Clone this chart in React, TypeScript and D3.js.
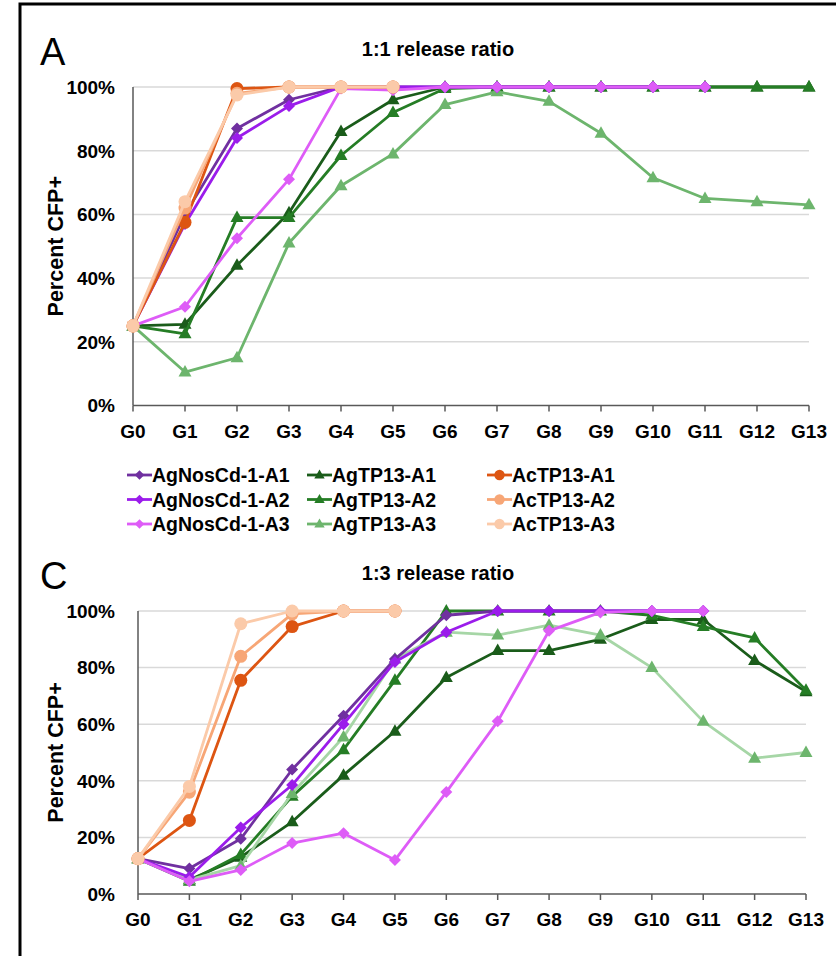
import React from "react";
import * as d3 from "d3";

// generations on the x axis and percent ticks on the y axis
const generations = ["G0", "G1", "G2", "G3", "G4", "G5", "G6", "G7", "G8", "G9", "G10", "G11", "G12", "G13"];
const percentTicks = [0, 20, 40, 60, 80, 100];

const seriesNames = [
  "AgNosCd-1-A1", "AgNosCd-1-A2", "AgNosCd-1-A3",
  "AgTP13-A1", "AgTP13-A2", "AgTP13-A3",
  "AcTP13-A1", "AcTP13-A2", "AcTP13-A3",
];

// panel A, 1:1 release ratio
const nos11A1 = [25, 60, 87, 96, 100, 100, 100, 100, 100, 100, 100, 100];
const nos11A2 = [25, 57, 84, 94, 100, 100, 100, 100, 100, 100, 100, 100];
const nos11A3 = [25, 31, 52.5, 71, 99.5, 99, 100, 100, 100, 100, 100, 100];
const tp11A1 = [25, 25.5, 44, 60.5, 86, 96, 100, 100, 100, 100, 100, 100, 100, 100];
const tp11A2 = [25, 22.5, 59, 59, 78.5, 92, 99.5, 100, 100, 100, 100, 100, 100, 100];
const tp11A3 = [25, 10.5, 15, 51, 69, 79, 94.5, 98.5, 95.5, 85.5, 71.5, 65, 64, 63];
const ac11A1 = [25, 57.5, 99.5, 100, 100, 100];
const ac11A2 = [25, 62, 98, 100, 100, 100];
const ac11A3 = [25, 64, 97.5, 100, 100, 100];

// panel C, 1:3 release ratio
const nos13A1 = [12.5, 9, 19.5, 44, 63, 83, 98.5, 100, 100, 100, 100, 100];
const nos13A2 = [12.5, 6, 23.5, 38.5, 60, 82, 92.5, 100, 100, 100, 100, 100];
const nos13A3 = [12.5, 4.5, 8.5, 18, 21.5, 12, 36, 61, 93, 99.5, 100, 100];
const tp13A1 = [12.5, 5, 13, 25.5, 42, 57.5, 76.5, 86, 86, 90, 97, 97, 82.5, 71.5];
const tp13A2 = [12.5, 4.5, 14, 34.5, 51, 75.5, 100, 100, 100, 100, 98.5, 94.5, 90.5, 72];
const tp13A3 = [12.5, 5, 10, 35.5, 55.5, 83, 92.5, 91.5, 95, 91.5, 80, 61, 48, 50];
const ac13A1 = [12.5, 26, 75.5, 94.5, 100, 100];
const ac13A2 = [12.5, 36, 84, 99, 100, 100];
const ac13A3 = [12.5, 38, 95.5, 100, 100, 100];

const colors = ["#7030A0", "#9B1CEB", "#DE5CF7", "#1A5C1A", "#257D25", "#6DB56D", "#DD5512", "#F7A676", "#FBCAA9"];
const shapes = ["diamond", "diamond", "diamond", "triangle", "triangle", "triangle", "circle", "circle", "circle"];

const font = "Liberation Sans, Arial, sans-serif";

const markerPath = (shape: string, s = 1) => {
  if (shape === "diamond") return `M0,${-6 * s}L${6 * s},0L0,${6 * s}L${-6 * s},0Z`;
  if (shape === "triangle") return `M0,${-7 * s}L${6.5 * s},${4.5 * s}L${-6.5 * s},${4.5 * s}Z`;
  return d3.symbol(d3.symbolCircle, 133 * s * s)() as string;
};

type Panel = {
  letter: string;
  title: string;
  data: number[][];
  lineColors?: (string | null)[];
  x0: number;
  x1: number;
  yTop: number;
  yBottom: number;
};

// drawing order: greens under purples under oranges
const drawOrder = [3, 4, 5, 0, 1, 2, 6, 7, 8];

const Chart = ({ p }: { p: Panel }) => {
  const x = d3.scalePoint<string>().domain(generations).range([p.x0, p.x1]);
  const y = d3.scaleLinear().domain([0, 100]).range([p.yBottom, p.yTop]);
  const line = d3
    .line<number>()
    .x((_, i) => x(generations[i]) as number)
    .y((d) => y(d));
  const midY = (p.yTop + p.yBottom) / 2;

  return (
    <g>
      <text x={40} y={p.yTop - 22} fontFamily={font} fontSize={38}>{p.letter}</text>
      <text x={438} y={p.yTop - 31} fontFamily={font} fontSize={20} fontWeight="bold" textAnchor="middle">{p.title}</text>
      {percentTicks.map((t) => (
        <g key={t}>
          {t > 0 && <line x1={p.x0} x2={p.x1} y1={y(t)} y2={y(t)} stroke="#D9D9D9" strokeWidth={1.5} />}
          <text x={115} y={y(t)} dy="0.36em" textAnchor="end" fontFamily={font} fontSize={19} fontWeight="bold">{t}%</text>
        </g>
      ))}
      <line x1={p.x0} x2={p.x0} y1={p.yTop} y2={p.yBottom} stroke="#595959" strokeWidth={1.5} />
      <line x1={p.x0} x2={p.x1} y1={p.yBottom} y2={p.yBottom} stroke="#595959" strokeWidth={1.5} />
      {generations.map((g) => (
        <g key={g}>
          <line x1={x(g)} x2={x(g)} y1={p.yBottom} y2={p.yBottom + 6} stroke="#595959" strokeWidth={1.5} />
          <text x={x(g)} y={p.yBottom + 32} textAnchor="middle" fontFamily={font} fontSize={19} fontWeight="bold">{g}</text>
        </g>
      ))}
      <text transform={`translate(63,${midY}) rotate(-90)`} textAnchor="middle" fontFamily={font} fontSize={21.5} fontWeight="bold">Percent CFP+</text>
      {drawOrder.map((i) => {
        const vals = p.data[i];
        return (
          <g key={i}>
            <path d={line(vals) as string} fill="none" stroke={p.lineColors?.[i] ?? colors[i]} strokeWidth={2.8} strokeLinejoin="round" />
            {vals.map((v, j) => (
              <path key={j} d={markerPath(shapes[i])} transform={`translate(${x(generations[j])},${y(v)})`} fill={colors[i]} />
            ))}
          </g>
        );
      })}
    </g>
  );
};

const Legend = () => {
  const colX = [127, 307, 487];
  const rowY = [475, 499.5, 524];
  return (
    <g>
      {seriesNames.map((name, i) => {
        const cx = colX[Math.floor(i / 3)];
        const cy = rowY[i % 3];
        return (
          <g key={name} transform={`translate(${cx},${cy})`}>
            <line x1={0} x2={25} y1={0} y2={0} stroke={colors[i]} strokeWidth={2.8} />
            <path d={markerPath(shapes[i], 0.8)} transform="translate(12.5,0)" fill={colors[i]} />
            <text x={25} y={0} dy="0.36em" fontFamily={font} fontSize={19.5} fontWeight="bold">{name}</text>
          </g>
        );
      })}
    </g>
  );
};

const panelA: Panel = {
  letter: "A",
  title: "1:1 release ratio",
  data: [nos11A1, nos11A2, nos11A3, tp11A1, tp11A2, tp11A3, ac11A1, ac11A2, ac11A3],
  x0: 133,
  x1: 809,
  yTop: 87,
  yBottom: 405.5,
};

const panelC: Panel = {
  letter: "C",
  title: "1:3 release ratio",
  data: [nos13A1, nos13A2, nos13A3, tp13A1, tp13A2, tp13A3, ac13A1, ac13A2, ac13A3],
  lineColors: [null, null, null, null, null, "#A6D6A6", null, null, null],
  x0: 138,
  x1: 806,
  yTop: 611,
  yBottom: 894,
};

export default function App() {
  return (
    <svg width={836} height={956} style={{ position: "absolute", left: 0, top: 0, background: "#fff" }}>
      <rect x={20} y={4} width={840} height={980} fill="none" stroke="#000" strokeWidth={3} />
      <Chart p={panelA} />
      <Legend />
      <Chart p={panelC} />
    </svg>
  );
}
